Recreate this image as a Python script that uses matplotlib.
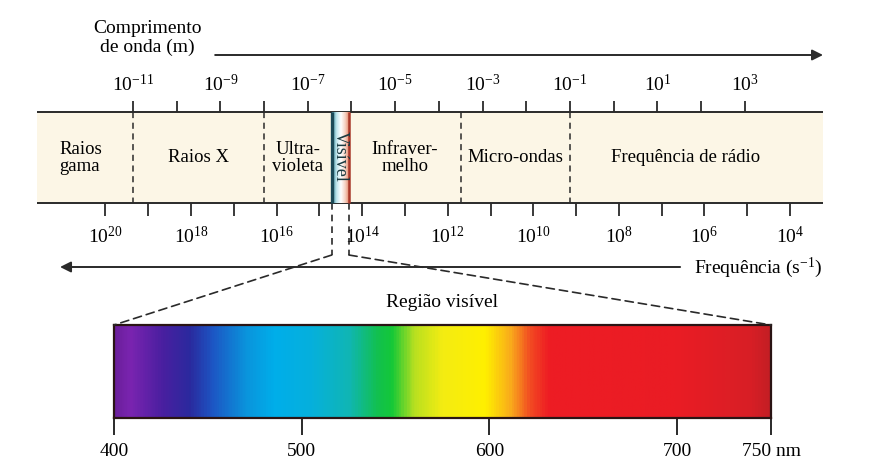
import numpy as np
import matplotlib.pyplot as plt
from matplotlib.colors import LinearSegmentedColormap
from matplotlib.patches import ConnectionPatch

plt.rcParams['font.family'] = ['Liberation Serif', 'DejaVu Serif']
plt.rcParams['mathtext.fontset'] = 'custom'
plt.rcParams['mathtext.rm'] = 'Liberation Serif'
plt.rcParams['mathtext.it'] = 'Liberation Serif:italic'
plt.rcParams['mathtext.bf'] = 'Liberation Serif:bold'

# wavelength scale, exponents of 10 (m)
wave_exps = np.arange(-11, 4)
wave_label_exps = [-11, -9, -7, -5, -3, -1, 1, 3]
# frequency scale, exponents of 10 (s^-1)
freq_exps = np.arange(4, 21)
freq_label_exps = [20, 18, 16, 14, 12, 10, 8, 6, 4]

# regions of the spectrum and their borders (log10 of wavelength in m)
region_names = ["Raios\ngama", "Raios X", "Ultra-\nvioleta", "Visível",
                "Infraver-\nmelho", "Micro-ondas", "Frequência de rádio"]
region_bounds = [-13.2, -11, -8, -6.45, -6.06, -3.5, -1, 4.8]

# visible spectrum (nm)
vis_ticks = [400, 500, 600, 700, 750]
vis_labels = ["400", "500", "600", "700", "750 nm"]
spec_nm = [400, 408, 425, 440, 452, 470, 485, 505, 525, 540, 548, 560, 575,
           598, 612, 622, 632, 700, 740, 750]
spec_colors = ["#6c1f9c", "#7a24b0", "#4a1fa0", "#2a2a9e", "#1d56c4", "#0a94dc",
               "#00aeea", "#06b0dc", "#10b6b4", "#12c050", "#14c838", "#b8e020",
               "#f4ec12", "#fff000", "#f9a81c", "#f24a22", "#ee1c24", "#ea1c24",
               "#d81f26", "#c41e24"]


# frequency exponent -> position on the wavelength axis (as drawn in the figure)
def freq_pos(e):
    return 7.95 - 0.979 * np.asarray(e)


fig = plt.figure(figsize=(8.78, 4.68), dpi=100)
ax = fig.add_axes([0, 0, 1, 1])

line_c = "#2a2a2a"
top_y, bot_y = 112, 203

# band
ax.fill_between([region_bounds[0], region_bounds[-1]], top_y, bot_y, color="#fcf6e6", lw=0)
ax.hlines([top_y, bot_y], region_bounds[0], region_bounds[-1], color=line_c, lw=1.4)

# wavelength ticks
ax.vlines(wave_exps, 101, top_y, color=line_c, lw=1.3)
for e in wave_label_exps:
    ax.text(e, 84, r"$\mathregular{10^{%d}}$" % e, ha="center", va="center", fontsize=14)

# frequency ticks
ax.vlines(freq_pos(freq_exps), bot_y, 216, color=line_c, lw=1.3)
for e in freq_label_exps:
    ax.text(freq_pos(e), 236, r"$\mathregular{10^{%d}}$" % e, ha="center", va="center", fontsize=14)

# region borders
for b in [region_bounds[1], region_bounds[2], region_bounds[5], region_bounds[6]]:
    ax.vlines(b, top_y, bot_y, color=line_c, lw=1.1, linestyles=(0, (4, 3)))

# region labels
for i, name in enumerate(region_names):
    if name == "Visível":
        continue
    xc = (region_bounds[i] + region_bounds[i + 1]) / 2
    ma = "center"
    if i == 0:
        xc -= 0.1
        ma = "left"
    if i == 6:
        xc -= 0.25
    ax.text(xc, 158, name, ha="center", va="center", fontsize=13.5,
            linespacing=1.05, multialignment=ma)

# visible strip
vis_l, vis_r = region_bounds[3], region_bounds[4]
strip_cmap = LinearSegmentedColormap.from_list(
    "strip", ["#3a8a9c", "#bfe6ee", "#ffffff", "#f6d0c0", "#e07a5a"])
ax.imshow(np.linspace(0, 1, 50)[None, :], cmap=strip_cmap, aspect="auto",
          extent=[vis_l, vis_r, bot_y, top_y], zorder=2)
ax.vlines(vis_l, top_y, bot_y, color="#1c4a58", lw=2.4, zorder=3)
ax.vlines(vis_r, top_y, bot_y, color="#a8382a", lw=1.8, zorder=3)
ax.text((vis_l + vis_r) / 2, 156, "Visível", rotation=-90, ha="center", va="center",
        fontsize=13, color="#1a3a40", zorder=4)

# arrows
arrow_kw = dict(arrowstyle="-|>", color=line_c, lw=1.4, mutation_scale=16, shrinkA=0, shrinkB=0)
ax.annotate("", xy=(4.79, 55), xytext=(-9.12, 55), arrowprops=arrow_kw)
ax.annotate("", xy=(-12.67, 267), xytext=(1.52, 267), arrowprops=arrow_kw)
ax.text(-9.42, 38, "Comprimento\nde onda (m)", ha="right", va="center",
        multialignment="center", fontsize=14, linespacing=1.1)
ax.text(1.83, 268, r"Frequência ($\mathregular{s^{-1}}$)", ha="left", va="center", fontsize=14)

# dashed vertical drop from the visible strip
ax.vlines([vis_l, vis_r], bot_y, 255, color=line_c, lw=1.2, linestyles=(0, (4, 3)))

ax.set_xlim(-14.043, 6.048)
ax.set_ylim(468, 0)
ax.axis("off")

# visible spectrum bar
ax_s = fig.add_axes([114 / 878, 1 - 418 / 468, 657 / 878, 93 / 468])
spec_cmap = LinearSegmentedColormap.from_list(
    "spec", [((n - spec_nm[0]) / (spec_nm[-1] - spec_nm[0]), c) for n, c in zip(spec_nm, spec_colors)])
ax_s.imshow(np.linspace(0, 1, 700)[None, :], cmap=spec_cmap, aspect="auto", extent=[400, 750, 0, 1])
ax_s.set_xlim(400, 750)
ax_s.set_ylim(0, 1)
ax_s.set_yticks([])
ax_s.set_xticks(vis_ticks)
ax_s.set_xticklabels(vis_labels, fontsize=14)
ax_s.tick_params(axis="x", length=12, width=1.4, pad=6, color=line_c)
for sp in ax_s.spines.values():
    sp.set_color("#2a1414")
    sp.set_linewidth(1.6)
ax_s.text(575, 1.15, "Região visível", ha="center", va="bottom", fontsize=14)

# dashed connection to the spectrum bar
for xa, xb in [(vis_l, 400), (vis_r, 750)]:
    con = ConnectionPatch(xyA=(xa, 255), coordsA=ax.transData, xyB=(xb, 1),
                          coordsB=ax_s.transData, color=line_c, lw=1.2,
                          linestyle=(0, (5, 3)))
    fig.add_artist(con)

fig.savefig("out.png", dpi=100)
